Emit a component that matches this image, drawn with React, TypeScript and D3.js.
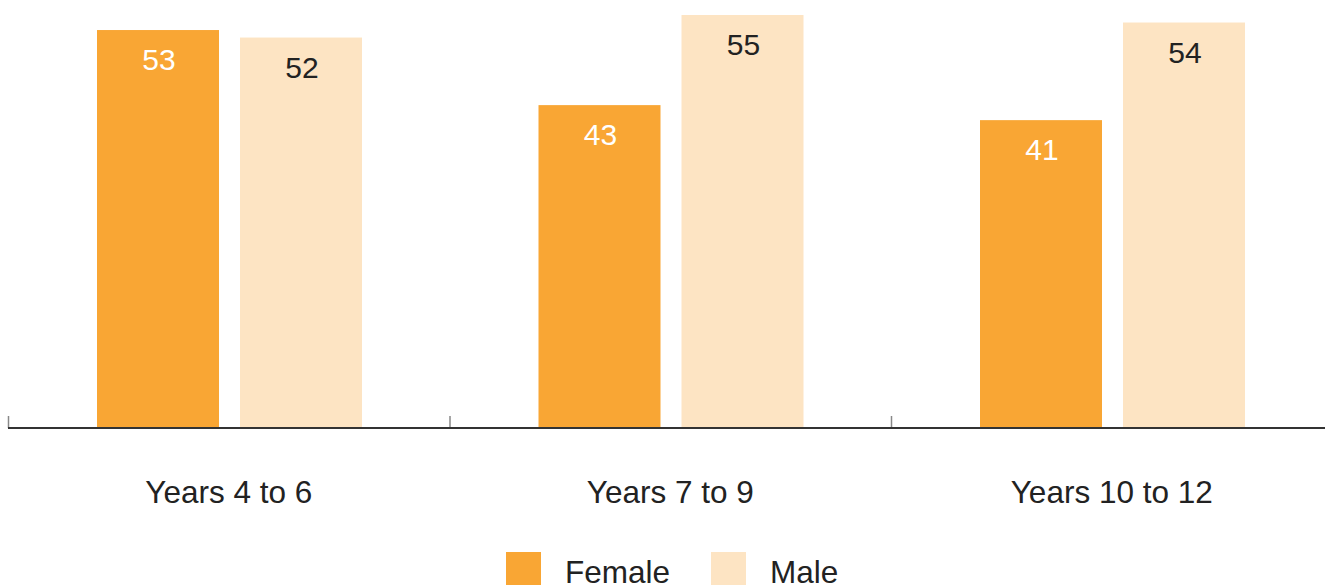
import React from "react";
import * as d3 from "d3";

const categories = ["Years 4 to 6", "Years 7 to 9", "Years 10 to 12"];
const seriesNames = ["Female", "Male"];
const femaleValues = [53, 43, 41];
const maleValues = [52, 55, 54];

const colors: Record<string, string> = { Female: "#f9a634", Male: "#fde4c3" };
const labelColors: Record<string, string> = { Female: "#ffffff", Male: "#222222" };
const FONT = "Arial, 'Liberation Sans', sans-serif";

export default function App() {
  const W = 1325;
  const H = 585;
  const left = 8;
  const step = 441.5;
  const baseY = 428;

  const x0 = d3
    .scaleBand<string>()
    .domain(categories)
    .range([left, left + step * categories.length])
    .paddingInner(0)
    .paddingOuter(0);

  const x1 = d3
    .scaleBand<string>()
    .domain(seriesNames)
    .range([89, 354])
    .paddingInner(21 / 143)
    .paddingOuter(0);

  const y = d3.scaleLinear().domain([0, 57]).range([baseY, 0]);

  const valuesBySeries: Record<string, number[]> = {
    Female: femaleValues,
    Male: maleValues,
  };

  return (
    <svg
      width={W}
      height={H}
      style={{ position: "fixed", left: 0, top: 0, display: "block", background: "#fff" }}
      fontFamily={FONT}
    >
      {categories.map((c, i) => (
        <g key={c}>
          {seriesNames.map((s) => {
            const v = valuesBySeries[s][i];
            const bx = (x0(c) ?? 0) + (x1(s) ?? 0);
            const bw = x1.bandwidth();
            return (
              <g key={s}>
                <rect x={bx} y={y(v)} width={bw} height={baseY - y(v)} fill={colors[s]} />
                <text
                  x={bx + bw / 2 + 1}
                  y={y(v) + 40}
                  textAnchor="middle"
                  fontSize={30}
                  fill={labelColors[s]}
                >
                  {v}
                </text>
              </g>
            );
          })}
          <text
            x={(x0(c) ?? 0) + x0.bandwidth() / 2}
            y={503}
            textAnchor="middle"
            fontSize={31.5}
            fill="#222"
          >
            {c}
          </text>
        </g>
      ))}

      {categories.map((c) => (
        <line
          key={"t" + c}
          x1={(x0(c) ?? 0) + 0.5}
          x2={(x0(c) ?? 0) + 0.5}
          y1={416}
          y2={baseY}
          stroke="#888"
          strokeWidth={1.5}
        />
      ))}
      <line x1={left} x2={W} y1={baseY} y2={baseY} stroke="#333" strokeWidth={2} />

      {seriesNames.map((s, i) => {
        const lx = i === 0 ? 506 : 711;
        return (
          <g key={"leg" + s}>
            <rect x={lx} y={552} width={35} height={35} fill={colors[s]} />
            <text x={lx + 59} y={583} fontSize={31.5} fill="#222">
              {s}
            </text>
          </g>
        );
      })}
    </svg>
  );
}
